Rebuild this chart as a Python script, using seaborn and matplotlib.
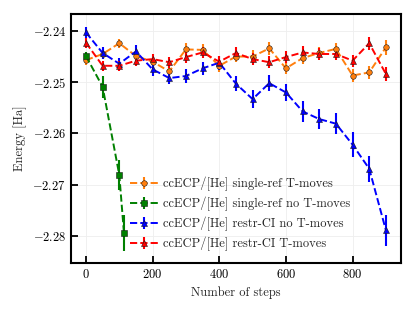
import matplotlib
matplotlib.use("Agg")
import matplotlib.pyplot as plt
import seaborn as sns
import numpy as np

steps = [0, 50, 100, 150, 200, 250, 300, 350, 400, 450, 500,
         550, 600, 650, 700, 750, 800, 850, 900]

sr_t = [-2.2457, -2.2445, -2.2424, -2.2449, -2.2460, -2.2479, -2.2436, -2.2437, -2.2468, -2.2450,
        -2.2450, -2.2434, -2.2473, -2.2453, -2.2443, -2.2435, -2.2487, -2.2481, -2.2432]
sr_t_err = [0.0009, 0.0009, 0.0009, 0.0010, 0.0010, 0.0011, 0.0012, 0.0011, 0.0012, 0.0011,
            0.0012, 0.0012, 0.0012, 0.0012, 0.0012, 0.0012, 0.0013, 0.0013, 0.0014]

steps_sr_not = [0, 50, 100, 114]
sr_not = [-2.2449, -2.2509, -2.2681, -2.2794]
sr_not_err = [0.0008, 0.0021, 0.0030, 0.0035]

ci_not = [-2.2403, -2.2443, -2.2464, -2.2440, -2.2475, -2.2492, -2.2488, -2.2473, -2.2462, -2.2503,
          -2.2533, -2.2502, -2.2520, -2.2557, -2.2572, -2.2581, -2.2622, -2.2669, -2.2789]
ci_not_err = [0.0011, 0.0011, 0.0011, 0.0012, 0.0012, 0.0012, 0.0013, 0.0013, 0.0014, 0.0015,
              0.0018, 0.0016, 0.0017, 0.0020, 0.0020, 0.0020, 0.0024, 0.0025, 0.0030]

ci_t = [-2.2423, -2.2468, -2.2468, -2.2458, -2.2455, -2.2461, -2.2451, -2.2442, -2.2460, -2.2443,
        -2.2455, -2.2461, -2.2451, -2.2442, -2.2445, -2.2445, -2.2458, -2.2424, -2.2484]
ci_t_err = [0.0010, 0.0010, 0.0010, 0.0010, 0.0010, 0.0011, 0.0011, 0.0011, 0.0012, 0.0012,
            0.0012, 0.0012, 0.0012, 0.0012, 0.0012, 0.0012, 0.0012, 0.0013, 0.0014]

sns.set_theme(style="ticks")
plt.rcParams.update({
    "font.family": "serif",
    "font.serif": ["cmr10"],
    "mathtext.fontset": "cm",
    "axes.formatter.use_mathtext": True,
    "font.size": 9,
    "axes.labelsize": 9,
    "xtick.labelsize": 9,
    "ytick.labelsize": 9,
    "legend.fontsize": 9,
    "xtick.direction": "in",
    "ytick.direction": "in",
    "axes.linewidth": 1.5,
    "axes.edgecolor": "black",
})

fig = plt.figure(figsize=(4.15, 3.12), dpi=100)
ax = fig.add_axes([0.171, 0.157, 0.795, 0.798])

series = [
    (steps, sr_t, sr_t_err, "tab:orange", "o", "ccECP/[He] single-ref T-moves"),
    (steps_sr_not, sr_not, sr_not_err, "green", "s", "ccECP/[He] single-ref no T-moves"),
    (steps, ci_not, ci_not_err, "blue", "^", "ccECP/[He] restr-CI no T-moves"),
    (steps, ci_t, ci_t_err, "red", "^", "ccECP/[He] restr-CI T-moves"),
]
for x, y, e, c, m, lab in series:
    ax.errorbar(x, y, yerr=e, color=c, ls="--", lw=1.4, marker=m, ms=4,
                mec="k", mew=0.4, mfc=c, elinewidth=1.5, capsize=0, label=lab)

ax.set_xlim(-45, 945)
ax.set_ylim(-2.2853, -2.2367)
ax.set_xticks([0, 200, 400, 600, 800])
ax.set_yticks([-2.24, -2.25, -2.26, -2.27, -2.28])
ax.tick_params(axis="both", length=5, width=1.3, color="black", colors="black",
               top=False, right=False)
ax.grid(True, color="#eeeeee", lw=0.6)
ax.set_xlabel("Number of steps")
ax.set_ylabel("Energy [Ha]")
ax.legend(loc="lower left", bbox_to_anchor=(0.164, 0.028), borderaxespad=0,
          frameon=False, handlelength=2.25, handletextpad=0.4, labelspacing=0.45)

fig.savefig("out.png", dpi=100)
plt.close(fig)
